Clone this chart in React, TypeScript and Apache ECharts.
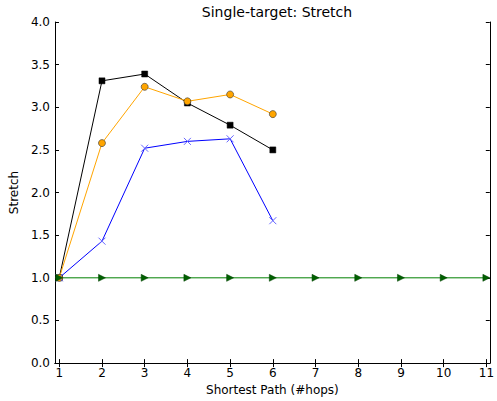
import React, { useEffect, useRef } from "react";
import * as echarts from "echarts";

const hops = [1, 2, 3, 4, 5, 6, 7, 8, 9, 10, 11];
const blackSeries = [1.0, 3.31, 3.39, 3.05, 2.79, 2.5];
const orangeSeries = [1.0, 2.58, 3.24, 3.07, 3.15, 2.92];
const blueSeries = [1.0, 1.43, 2.52, 2.6, 2.63, 1.67];
const greenSeries = [1, 1, 1, 1, 1, 1, 1, 1, 1, 1, 1];
const yTicks = [0, 0.5, 1, 1.5, 2, 2.5, 3, 3.5, 4];

const FONT = "DejaVu Sans";

function pairs(vals: number[]) {
  return vals.map((v, i) => [hops[i], v]);
}

export default function App() {
  const ref = useRef<HTMLDivElement>(null);
  useEffect(() => {
    document.body.style.margin = "0";
    const chart = echarts.init(ref.current!, null, { renderer: "svg" });
    const axisLine = { show: true, lineStyle: { color: "#000", width: 1 } };
    const xBase = {
      type: "value" as const,
      min: 0.9,
      max: 11.08,
      splitLine: { show: false },
      axisLine,
      axisTick: {
        show: true,
        inside: true,
        length: 4,
        customValues: hops,
        lineStyle: { color: "#000" },
      },
    };
    const yBase = {
      type: "value" as const,
      min: 0,
      max: 4,
      interval: 0.5,
      splitLine: { show: false },
      axisLine,
      axisTick: {
        show: true,
        inside: true,
        length: 4,
        customValues: yTicks,
        lineStyle: { color: "#000" },
      },
    };
    chart.setOption({
      animation: false,
      backgroundColor: "#fff",
      title: {
        text: "Single-target: Stretch",
        left: 272,
        top: 0,
        textAlign: "center",
        textStyle: { fontFamily: FONT, fontSize: 14, fontWeight: "normal", color: "#000" },
      },
      grid: { left: 51, right: 4, top: 22, bottom: 35, containLabel: false },
      xAxis: [
        {
          ...xBase,
          position: "bottom",
          name: "Shortest Path (#hops)",
          nameLocation: "middle",
          nameGap: 16,
          nameTextStyle: { fontFamily: FONT, fontSize: 12, color: "#000" },
          axisLabel: {
            show: true,
            margin: 4,
            customValues: hops,
            fontFamily: FONT,
            fontSize: 12,
            color: "#000",
            formatter: (v: number) => String(v),
          },
        },
        { ...xBase, position: "top", axisLabel: { show: false } },
      ],
      yAxis: [
        {
          ...yBase,
          position: "left",
          name: "Stretch",
          nameLocation: "middle",
          nameGap: 25,
          nameTextStyle: { fontFamily: FONT, fontSize: 12, color: "#000" },
          axisLabel: {
            show: true,
            margin: 5,
            fontFamily: FONT,
            fontSize: 12,
            color: "#000",
            formatter: (v: number) => v.toFixed(1),
          },
        },
        { ...yBase, position: "right", axisLabel: { show: false } },
      ],
      series: [
        {
          name: "black",
          type: "line",
          data: pairs(blackSeries),
          symbol: "rect",
          symbolSize: 6,
          lineStyle: { color: "#000", width: 1 },
          itemStyle: { color: "#000", borderColor: "#000", borderWidth: 0.5 },
        },
        {
          name: "orange",
          type: "line",
          data: pairs(orangeSeries),
          symbol: "circle",
          symbolSize: 7,
          lineStyle: { color: "#FFA500", width: 1 },
          itemStyle: { color: "#FFA500", borderColor: "#333", borderWidth: 0.6 },
        },
        {
          name: "blue",
          type: "line",
          data: pairs(blueSeries),
          symbol: "path://M0,0L10,10M10,0L0,10",
          symbolSize: 7,
          lineStyle: { color: "#0000FF", width: 1 },
          itemStyle: { color: "none", borderColor: "#6666ff", borderWidth: 1 },
        },
        {
          name: "green",
          type: "line",
          data: pairs(greenSeries),
          symbol: "triangle",
          symbolRotate: -90,
          symbolSize: 7,
          lineStyle: { color: "#008000", width: 1 },
          itemStyle: { color: "#006000", borderColor: "#004000", borderWidth: 0.5 },
        },
      ],
    });
    return () => chart.dispose();
  }, []);
  return (
    <div
      ref={ref}
      style={{ position: "absolute", left: 0, top: 0, width: 497, height: 401 }}
    />
  );
}
